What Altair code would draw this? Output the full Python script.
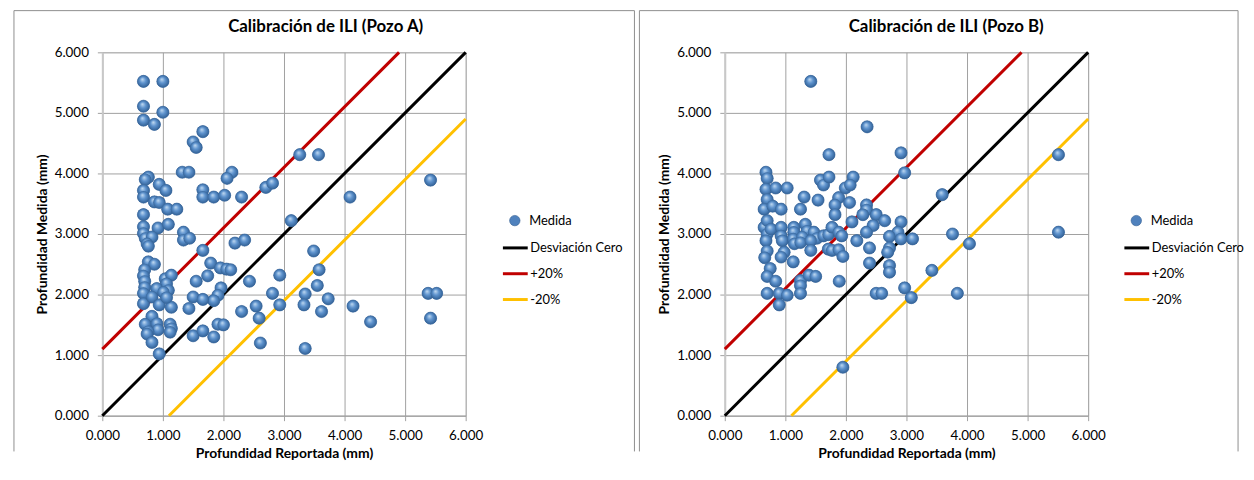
import altair as alt
import pandas as pd

# ---------------- data ----------------
# Pozo A: reported depth (x) vs measured depth (y), mm
xa = [0.68, 1.00, 0.68, 1.00, 0.68, 0.86, 1.66, 1.50, 1.55, 3.26, 3.57,
      1.32, 1.43, 2.14, 2.06, 0.76, 0.71, 0.94, 1.05, 0.68, 0.68,
      1.66, 1.66, 1.84, 2.02, 2.30, 2.70, 2.81, 4.09,
      0.86, 0.94, 1.08, 1.23, 0.68, 3.12,
      0.68, 0.92, 1.09, 0.68, 0.71, 0.82, 0.74, 0.76,
      1.34, 1.34, 1.44, 2.19, 2.35, 1.66, 3.49,
      0.76, 0.86, 0.70, 0.68, 0.70, 0.70,
      1.79, 1.95, 2.05, 2.12, 1.74, 1.55, 1.04, 1.14, 1.06,
      2.43, 2.93, 3.58, 3.55, 0.90, 1.09, 1.01, 1.96, 1.91, 1.84, 1.50, 1.66,
      0.68, 0.68, 0.82, 0.94, 1.14, 1.06, 1.43,
      2.81, 3.35, 3.73, 2.93, 3.33, 2.54, 2.30, 3.62, 4.14, 4.43, 2.59,
      0.82, 0.71, 0.90, 1.12, 1.14, 0.92, 0.76, 0.74, 1.12, 1.91, 2.00,
      1.50, 1.66, 1.84, 0.82, 2.61, 3.35, 0.94,
      5.42, 5.38, 5.52, 5.42]
ya = [5.52, 5.52, 5.11, 5.01, 4.88, 4.81, 4.69, 4.52, 4.43, 4.31, 4.31,
      4.02, 4.02, 4.02, 3.92, 3.94, 3.90, 3.82, 3.72, 3.72, 3.61,
      3.73, 3.61, 3.61, 3.64, 3.61, 3.77, 3.84, 3.61,
      3.53, 3.52, 3.41, 3.41, 3.32, 3.22,
      3.12, 3.10, 3.16, 3.01, 2.93, 2.95, 2.84, 2.80,
      3.03, 2.90, 2.93, 2.85, 2.90, 2.73, 2.72,
      2.54, 2.50, 2.41, 2.31, 2.22, 2.12,
      2.52, 2.44, 2.42, 2.41, 2.31, 2.22, 2.26, 2.32, 2.18,
      2.22, 2.32, 2.41, 2.15, 2.10, 2.07, 2.04, 2.11, 1.99, 1.90, 1.96, 1.92,
      2.02, 1.85, 1.96, 1.83, 1.79, 1.95, 1.77,
      2.02, 2.01, 1.93, 1.83, 1.83, 1.81, 1.72, 1.72, 1.81, 1.55, 1.61,
      1.64, 1.51, 1.52, 1.51, 1.44, 1.42, 1.39, 1.35, 1.38, 1.51, 1.50,
      1.32, 1.40, 1.30, 1.21, 1.20, 1.11, 1.02,
      3.89, 2.02, 2.02, 1.61]

# Pozo B
xb = [1.42, 2.35, 1.72, 2.91, 2.97, 0.68, 0.70, 0.68, 0.84, 1.03,
      1.58, 1.63, 1.72, 2.12, 1.99, 2.07, 3.59,
      0.70, 0.65, 0.79, 0.93, 1.31, 1.54, 1.25,
      1.88, 1.82, 2.06, 2.34, 2.34, 2.28, 1.82,
      2.50, 2.64, 2.10, 2.45, 2.34, 2.91, 2.86, 2.72, 2.91, 3.10,
      3.76, 4.04,
      0.65, 0.70, 0.70, 0.68, 0.76, 0.93, 0.93, 0.95, 1.14, 1.14, 1.13, 1.15,
      1.33, 1.36, 1.28, 1.25, 1.47, 1.52, 1.63, 1.71, 1.77, 1.88, 1.93, 1.42,
      2.18, 2.39, 2.72, 2.69, 0.70, 0.66, 0.98, 0.93, 1.13, 1.42,
      1.71, 1.77, 1.88, 1.95, 2.39, 2.72, 2.72, 3.42,
      0.75, 0.70, 0.84, 1.25, 1.25, 1.39, 1.50, 1.89,
      0.70, 0.90, 1.03, 0.90, 1.25, 2.50, 2.59, 2.97, 3.08, 3.84,
      5.51, 5.51, 1.95]
yb = [5.52, 4.77, 4.31, 4.34, 4.01, 4.02, 3.92, 3.74, 3.76, 3.76,
      3.89, 3.81, 3.94, 3.94, 3.76, 3.81, 3.65,
      3.57, 3.41, 3.46, 3.41, 3.61, 3.56, 3.41,
      3.60, 3.48, 3.52, 3.48, 3.40, 3.32, 3.32,
      3.32, 3.22, 3.20, 3.14, 3.03, 3.20, 3.03, 2.96, 2.92, 2.92,
      3.00, 2.84,
      3.11, 3.22, 3.00, 2.89, 3.08, 3.11, 2.97, 2.89, 3.11, 3.03, 2.92, 2.84,
      3.16, 3.05, 2.95, 2.86, 3.03, 2.93, 2.97, 2.99, 3.11, 3.03, 2.97, 2.89,
      2.89, 2.77, 2.77, 2.70, 2.72, 2.61, 2.70, 2.62, 2.54, 2.73,
      2.75, 2.73, 2.74, 2.63, 2.52, 2.48, 2.37, 2.40,
      2.43, 2.30, 2.22, 2.23, 2.15, 2.32, 2.30, 2.22,
      2.02, 2.02, 1.99, 1.83, 2.02, 2.02, 2.02, 2.11, 1.95, 2.02,
      4.31, 3.03, 0.80]

# reference lines
line_series = ["Desviación Cero", "Desviación Cero", "+20%", "+20%", "-20%", "-20%"]
line_x = [0.0, 6.0, 0.0, 4.9, 1.1, 6.0]
line_y = [0.0, 6.0, 1.1, 6.0, 0.0, 4.9]
line_names = ["Desviación Cero", "+20%", "-20%"]
line_colors = ["#000000", "#C00000", "#FFC000"]

tick_values = [0, 1, 2, 3, 4, 5, 6]
titles = ["Calibración de ILI (Pozo A)", "Calibración de ILI (Pozo B)"]

FONT = "Lato"
GRID = "#A0A0A0"
FRAME = "#8E8E8E"

lines_df = pd.DataFrame({"serie": line_series, "x": line_x, "y": line_y})


def panel(xs, ys, title, frame_left, frame_right, legend_x, title_x):
    pts = pd.DataFrame({"x": xs, "y": ys, "serie": ["Medida"] * len(xs)})
    xscale = alt.Scale(domain=[0, 6], nice=False)
    yscale = alt.Scale(domain=[0, 6], nice=False)
    xaxis = alt.Axis(values=tick_values, format=".3f", title="Profundidad Reportada (mm)",
                     grid=True, gridColor=GRID, gridWidth=1, labelFlush=False,
                     domainColor=GRID, tickColor=GRID, tickSize=5,
                     labelFont=FONT, labelFontSize=13.5, labelColor="#000000", labelPadding=8,
                     titleFont=FONT, titleFontSize=14, titleFontWeight="bold",
                     titleColor="#000000", titlePadding=5)
    yaxis = alt.Axis(values=tick_values, format=".3f", title="Profundidad Medida (mm)",
                     grid=True, gridColor=GRID, gridWidth=1, labelFlush=False,
                     domainColor="#C8C8C8", domainWidth=2, tickColor=GRID, tickSize=5,
                     labelFont=FONT, labelFontSize=13.5, labelColor="#000000", labelPadding=9,
                     titleFont=FONT, titleFontSize=14, titleFontWeight="bold",
                     titleColor="#000000", titlePadding=5)

    lines = alt.Chart(lines_df).mark_line(strokeWidth=3).encode(
        x=alt.X("x:Q", scale=xscale, axis=xaxis),
        y=alt.Y("y:Q", scale=yscale, axis=yaxis),
        stroke=alt.Stroke("serie:N",
                          scale=alt.Scale(domain=line_names, range=line_colors),
                          legend=alt.Legend(title=None, orient="none",
                                            legendX=legend_x, legendY=183,
                                            symbolType="stroke", symbolSize=625,
                                            symbolStrokeWidth=3, labelOffset=1,
                                            rowPadding=5, padding=0,
                                            labelFont=FONT, labelFontSize=13,
                                            labelColor="#000000")),
    )
    base_pts = alt.Chart(pts).mark_circle(size=150, opacity=1, stroke="#2F5C8F", strokeWidth=0.6).encode(
        x="x:Q", y="y:Q",
        fill=alt.Fill("serie:N", scale=alt.Scale(domain=["Medida"], range=["#4F81BD"]),
                      legend=alt.Legend(title=None, orient="none",
                                        legendX=legend_x + 7, legendY=163,
                                        symbolType="circle", symbolSize=110,
                                        symbolStrokeColor="#2F5C8F", symbolStrokeWidth=0.6,
                                        labelOffset=8, padding=0,
                                        labelFont=FONT, labelFontSize=13,
                                        labelColor="#000000")),
    )
    shine = alt.Chart(pts).mark_circle(
        size=150, opacity=1,
        fill=alt.RadialGradient(
            gradient="radial",
            stops=[alt.GradientStop(offset=0, color="#C4DCF2"),
                   alt.GradientStop(offset=0.45, color="#5E93CE"),
                   alt.GradientStop(offset=1, color="#2C5A8E")],
            x1=0.4, y1=0.32, r1=0, x2=0.5, y2=0.5, r2=0.55),
    ).encode(x="x:Q", y="y:Q")

    frame_df = pd.DataFrame({"k": [0]})
    left_rule = alt.Chart(frame_df).mark_rule(color=FRAME, strokeWidth=1).encode(
        x=alt.value(frame_left), y=alt.value(-42), y2=alt.value(402))
    right_rule = alt.Chart(frame_df).mark_rule(color=FRAME, strokeWidth=1).encode(
        x=alt.value(frame_right), y=alt.value(-42), y2=alt.value(402))
    top_rule = alt.Chart(frame_df).mark_rule(color=FRAME, strokeWidth=1).encode(
        x=alt.value(frame_left), x2=alt.value(frame_right), y=alt.value(-42))
    title_mark = alt.Chart(frame_df).mark_text(
        text=title, font=FONT, fontSize=17, fontWeight="bold", color="#000000",
        align="center", baseline="middle").encode(
        x=alt.value(title_x), y=alt.value(-25))

    return alt.layer(left_rule, right_rule, top_rule, title_mark, lines, base_pts, shine).resolve_scale(
        fill="independent", stroke="independent"
    ).properties(width=366, height=366)


left = panel(xa, ya, titles[0], -89, 536, 402, 225)
right = panel(xb, yb, titles[1], -86, 517, 401, 223)

chart = alt.hconcat(left, right, spacing=3).properties(
    padding={"left": 5, "top": 0, "right": 0, "bottom": 0}
).configure_view(strokeWidth=0).configure(background="#FFFFFF")

chart.save("out.html", embed_options={"renderer": "svg", "actions": False})
